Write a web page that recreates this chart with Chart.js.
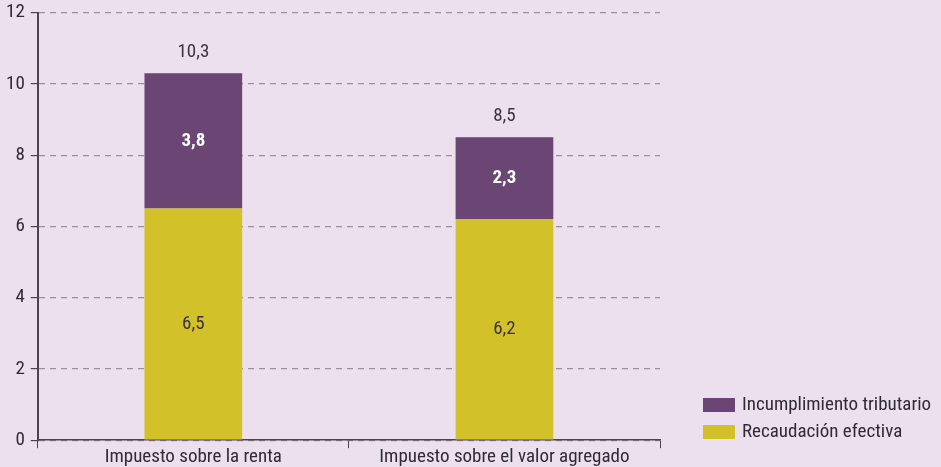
<!DOCTYPE html>
<html>
<head>
<meta charset="utf-8">
<script src="https://cdn.jsdelivr.net/npm/chart.js@4"></script>
<style>
  html, body { margin: 0; padding: 0; background: #ece0ee; }
  #wrap { width: 941px; height: 467px; }
</style>
</head>
<body>
<div id="wrap"><canvas id="chart" width="941" height="467"></canvas></div>
<script>
const categories = ['Impuesto sobre la renta', 'Impuesto sobre el valor agregado'];
const recaudacion = [6.5, 6.2];
const incumplimiento = [3.8, 2.3];
const totals = [10.3, 8.5];
const yTicks = [0, 2, 4, 6, 8, 10, 12];

const FONT = "'Liberation Sans Narrow', 'Roboto Condensed', Roboto, sans-serif";
const fmt = v => v.toFixed(1).replace('.', ',');

// labels inside segments and totals on top
const labelsPlugin = {
  id: 'labels',
  afterDatasetsDraw(chart) {
    const ctx = chart.ctx;
    ctx.save();
    ctx.textAlign = 'center';
    ctx.textBaseline = 'middle';
    const low = chart.getDatasetMeta(0).data;
    const high = chart.getDatasetMeta(1).data;
    low.forEach((bar, i) => {
      ctx.font = '19px ' + FONT;
      ctx.fillStyle = '#3a3340';
      ctx.fillText(fmt(recaudacion[i]), bar.x, (bar.y + bar.base) / 2);
    });
    high.forEach((bar, i) => {
      ctx.font = 'bold 19px ' + FONT;
      ctx.fillStyle = '#ffffff';
      ctx.fillText(fmt(incumplimiento[i]), bar.x, (bar.y + bar.base) / 2);
      ctx.font = '19px ' + FONT;
      ctx.fillStyle = '#3a3340';
      ctx.fillText(fmt(totals[i]), bar.x, bar.y - 21);
    });
    ctx.restore();
  }
};

// legend at the bottom right
const legendPlugin = {
  id: 'sideLegend',
  afterDraw(chart) {
    const ctx = chart.ctx;
    const items = [chart.data.datasets[1], chart.data.datasets[0]];
    ctx.save();
    ctx.font = '19px ' + FONT;
    ctx.textBaseline = 'middle';
    ctx.textAlign = 'left';
    items.forEach((ds, i) => {
      const y = 405 + i * 27;
      ctx.fillStyle = ds.backgroundColor;
      ctx.fillRect(703, y - 7, 32, 14);
      ctx.fillStyle = '#2f2a33';
      ctx.fillText(ds.label, 742, y);
    });
    ctx.restore();
  }
};

new Chart(document.getElementById('chart'), {
  type: 'bar',
  data: {
    labels: categories,
    datasets: [
      { label: 'Recaudación efectiva', data: recaudacion, backgroundColor: '#d3c12a', barPercentage: 0.314, categoryPercentage: 1 },
      { label: 'Incumplimiento tributario', data: incumplimiento, backgroundColor: '#6b4574', barPercentage: 0.314, categoryPercentage: 1 }
    ]
  },
  options: {
    responsive: false,
    animation: false,
    layout: { padding: { top: 2, right: 281, left: 0, bottom: 0 } },
    plugins: { legend: { display: false }, tooltip: { enabled: false } },
    scales: {
      x: {
        stacked: true,
        grid: { display: true, drawOnChartArea: false, drawTicks: true, tickLength: 8, color: '#4b4450', offset: true },
        border: { display: true, color: '#4b4450', width: 1.5 },
        ticks: { color: '#2f2a33', font: { family: FONT, size: 19 }, padding: -2 }
      },
      y: {
        stacked: true,
        min: 0, max: 12,
        afterBuildTicks: axis => { axis.ticks = yTicks.map(v => ({ value: v })); },
        grid: { color: '#9a8f9d', tickColor: '#4b4450', tickLength: 7, lineWidth: 1.2 },
        border: { display: true, color: '#4b4450', width: 2, dash: [6, 5] },
        ticks: { color: '#2f2a33', font: { family: FONT, size: 19, lineHeight: 0.7 }, padding: 6 }
      }
    }
  },
  plugins: [labelsPlugin, legendPlugin]
});
</script>
</body>
</html>
